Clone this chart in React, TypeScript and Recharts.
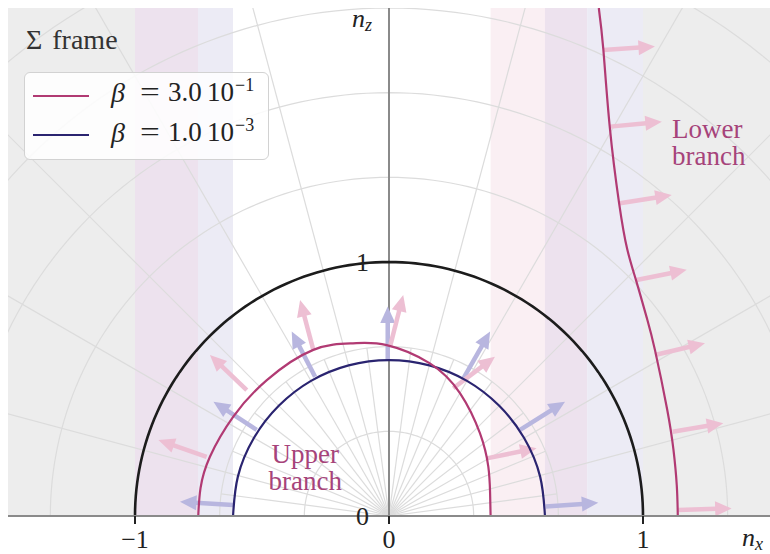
import React from "react";
import { ComposedChart, Line, XAxis, YAxis, ReferenceArea, ReferenceLine, ReferenceDot, Legend } from "recharts";

// refractive index surfaces (n_x, n_z)
const upperBranchHigh = [
  { x: 0.4, y: 0 }, { x: 0.398, y: 0.09 }, { x: 0.391, y: 0.194 }, { x: 0.358, y: 0.326 },
  { x: 0.28, y: 0.483 }, { x: 0.161, y: 0.601 }, { x: -0.009, y: 0.673 }, { x: -0.142, y: 0.68 },
  { x: -0.298, y: 0.654 }, { x: -0.481, y: 0.535 }, { x: -0.613, y: 0.391 }, { x: -0.705, y: 0.233 },
  { x: -0.742, y: 0.11 }, { x: -0.751, y: 0 },
];
const lowerBranchHigh = [
  { x: 0.826, y: 2.0 }, { x: 0.844, y: 1.835 }, { x: 0.869, y: 1.533 }, { x: 0.906, y: 1.231 },
  { x: 0.938, y: 1.05 }, { x: 0.975, y: 0.92 }, { x: 1.015, y: 0.78 }, { x: 1.047, y: 0.654 },
  { x: 1.095, y: 0.42 }, { x: 1.12, y: 0.26 }, { x: 1.133, y: 0.12 }, { x: 1.137, y: 0 },
];
const branchLow = [
  { x: 0.614, y: 0 }, { x: 0.595, y: 0.155 }, { x: 0.532, y: 0.307 }, { x: 0.434, y: 0.434 },
  { x: 0.307, y: 0.532 }, { x: 0.159, y: 0.593 }, { x: 0, y: 0.614 }, { x: -0.159, y: 0.593 },
  { x: -0.307, y: 0.532 }, { x: -0.434, y: 0.434 }, { x: -0.532, y: 0.307 }, { x: -0.595, y: 0.155 },
  { x: -0.614, y: 0 },
];

// group-velocity arrows: start point on the curve, tip
const arrowsLow = [
  { x1: -0.614, y1: 0.043, x2: -0.823, y2: 0.056 },
  { x1: -0.521, y1: 0.339, x2: -0.691, y2: 0.45 },
  { x1: -0.291, y1: 0.548, x2: -0.383, y2: 0.726 },
  { x1: -0.005, y1: 0.614, x2: -0.005, y2: 0.825 },
  { x1: 0.293, y1: 0.542, x2: 0.398, y2: 0.726 },
  { x1: 0.516, y1: 0.339, x2: 0.693, y2: 0.45 },
  { x1: 0.617, y1: 0.037, x2: 0.824, y2: 0.052 },
];
const arrowsHighUpper = [
  { x1: -0.718, y1: 0.233, x2: -0.908, y2: 0.299 },
  { x1: -0.56, y1: 0.496, x2: -0.705, y2: 0.634 },
  { x1: -0.298, y1: 0.654, x2: -0.35, y2: 0.85 },
  { x1: 0.004, y1: 0.667, x2: 0.056, y2: 0.87 },
  { x1: 0.253, y1: 0.503, x2: 0.417, y2: 0.627 },
  { x1: 0.385, y1: 0.227, x2: 0.581, y2: 0.267 },
];
const arrowsHighLower = [
  { x1: 0.844, y1: 1.835, x2: 1.047, y2: 1.848 },
  { x1: 0.87, y1: 1.533, x2: 1.074, y2: 1.552 },
  { x1: 0.909, y1: 1.231, x2: 1.113, y2: 1.264 },
  { x1: 0.975, y1: 0.929, x2: 1.172, y2: 0.969 },
  { x1: 1.047, y1: 0.634, x2: 1.244, y2: 0.68 },
  { x1: 1.117, y1: 0.332, x2: 1.316, y2: 0.365 },
  { x1: 1.139, y1: 0.024, x2: 1.349, y2: 0.03 },
];

// shaded n_x bands
const bands: [number, number][] = [
  [-1.5, -1], [-1, -0.752], [-0.752, -0.614], [0.4, 0.614], [0.614, 0.78], [0.78, 1], [1, 1.5],
];
const bandColors = ["#ededed", "#ede2ee", "#ecebf5", "#faeff3", "#ede2ee", "#ecebf5", "#ededed"];

const xTicks = [-1, 0, 1];
const gridRadii = [1 / 3, 2 / 3, 1, 4 / 3, 5 / 3, 2, 7 / 3];
const vacuumRadius = 1;

const legendRows = [
  { mantissa: "3.0", exponent: "−1" },
  { mantissa: "1.0", exponent: "−3" },
];

const arc = (r: number) =>
  Array.from({ length: 121 }, (_, i) => {
    const t = (Math.PI * i) / 120;
    return { x: r * Math.cos(t), y: r * Math.sin(t) };
  });

const radials = Array.from({ length: 23 }, (_, i) => (i + 1) * 7.5);

const FONT = "'Liberation Serif', 'DejaVu Serif', serif";
const RED = "#b13a73";
const BLUE = "#2a2470";
const PINK = "#edbfd3";
const LAV = "#b8b6df";
const LABEL = "#a6437a";

function Arrow(props: any) {
  const { x1, y1, x2, y2, color } = props;
  const dx = x2 - x1;
  const dy = y2 - y1;
  const len = Math.hypot(dx, dy) || 1;
  const ux = dx / len;
  const uy = dy / len;
  const head = 16.5;
  const half = 7.5;
  const bx = x2 - ux * head;
  const by = y2 - uy * head;
  return (
    <g>
      <line x1={x1} y1={y1} x2={bx + ux} y2={by + uy} stroke={color} strokeWidth={4.5} />
      <polygon
        points={`${x2},${y2} ${bx - uy * half},${by + ux * half} ${bx + uy * half},${by - ux * half}`}
        fill={color}
      />
    </g>
  );
}

function LegendBox() {
  const colors = [RED, BLUE];
  const piece = (left: number, top: number, size: number, content: React.ReactNode, extra: React.CSSProperties = {}) => (
    <span style={{ position: "absolute", left, top, fontSize: size, lineHeight: `${size}px`, whiteSpace: "nowrap", ...extra }}>
      {content}
    </span>
  );
  return (
    <div style={{ position: "relative", width: 300, height: 170, fontFamily: FONT, color: "#222" }}>
      <div style={{ position: "absolute", left: 26, top: 26, fontSize: 28, lineHeight: "28px", color: "#333", wordSpacing: 3 }}>
        Σ frame
      </div>
      <div
        style={{
          position: "absolute", left: 24, top: 72, width: 245, height: 88, boxSizing: "border-box",
          border: "1.5px solid #d2d2d2", borderRadius: 6, background: "rgba(255,255,255,0.85)",
        }}
      >
        {legendRows.map((r, i) => {
          const top = 6 + i * 40;
          return (
            <React.Fragment key={r.exponent}>
              <div style={{ position: "absolute", left: 7.5, top: 21.5 + i * 39, width: 56, height: 2.5, background: colors[i] }} />
              {piece(86, top, 28, "β", { fontStyle: "italic" })}
              {piece(115, top, 27, "=", { transform: "scaleX(1.3)", transformOrigin: "left center" })}
              {piece(143, top, 27, r.mantissa)}
              {piece(182, top, 27, "10")}
              {piece(210, top - 3, 18, r.exponent)}
            </React.Fragment>
          );
        })}
      </div>
    </div>
  );
}

const textAt = (render: (cx: number, cy: number) => React.ReactElement) => (p: any) => render(p.cx, p.cy);

export default function App() {
  return (
    <div style={{ position: "absolute", left: 0, top: 0, width: 770, height: 554 }}>
      <ComposedChart width={770} height={554} margin={{ top: 8, right: 0, bottom: 8, left: 8 }}>
        <XAxis
          type="number"
          dataKey="x"
          domain={[-1.5, 1.5]}
          allowDataOverflow
          ticks={xTicks}
          height={30}
          axisLine={{ stroke: "#8a8a8a", strokeWidth: 2 }}
          tickLine={{ stroke: "#222", strokeWidth: 2 }}
          tickSize={8}
          tickMargin={6}
          tickFormatter={(v: number) => (v < 0 ? `−${-v}` : `${v}`)}
          tick={{ fontSize: 26, fill: "#222", fontFamily: FONT }}
        />
        <YAxis type="number" dataKey="y" domain={[0, 2]} allowDataOverflow hide />

        {bands.map(([a, b], i) => (
          <ReferenceArea key={`band${i}`} x1={a} x2={b} y1={0} y2={2} fill={bandColors[i]} fillOpacity={1} stroke="none" ifOverflow="hidden" />
        ))}

        {radials.map((deg) => {
          const R = deg % 15 === 0 ? 3 : 2 / 3;
          const t = (deg * Math.PI) / 180;
          return (
            <ReferenceLine
              key={`rad${deg}`}
              segment={[{ x: 0, y: 0 }, { x: R * Math.cos(t), y: R * Math.sin(t) }]}
              stroke="#dcdcdc"
              strokeWidth={1.2}
              ifOverflow="hidden"
            />
          );
        })}
        {gridRadii.map((r) => (
          <Line key={`grid${r}`} data={arc(r)} dataKey="y" type="linear" stroke="#dcdcdc" strokeWidth={1.2} dot={false} activeDot={false} isAnimationActive={false} legendType="none" />
        ))}

        <ReferenceLine x={0} stroke="#8a8a8a" strokeWidth={2} />

        {arrowsLow.map((a, i) => (
          <ReferenceLine key={`al${i}`} segment={[{ x: a.x1, y: a.y1 }, { x: a.x2, y: a.y2 }]} ifOverflow="visible" shape={(p: any) => <Arrow {...p} color={LAV} />} />
        ))}
        {arrowsHighUpper.map((a, i) => (
          <ReferenceLine key={`ahu${i}`} segment={[{ x: a.x1, y: a.y1 }, { x: a.x2, y: a.y2 }]} ifOverflow="visible" shape={(p: any) => <Arrow {...p} color={PINK} />} />
        ))}
        {arrowsHighLower.map((a, i) => (
          <ReferenceLine key={`ahl${i}`} segment={[{ x: a.x1, y: a.y1 }, { x: a.x2, y: a.y2 }]} ifOverflow="visible" shape={(p: any) => <Arrow {...p} color={PINK} />} />
        ))}

        <Line data={arc(vacuumRadius)} dataKey="y" type="linear" stroke="#1c1c1c" strokeWidth={2.6} dot={false} activeDot={false} isAnimationActive={false} legendType="none" />
        <Line data={branchLow} dataKey="y" name="β = 1.0 10^-3" type="natural" stroke={BLUE} strokeWidth={2.2} dot={false} activeDot={false} isAnimationActive={false} />
        <Line data={upperBranchHigh} dataKey="y" name="β = 3.0 10^-1" type="natural" stroke={RED} strokeWidth={2.2} dot={false} activeDot={false} isAnimationActive={false} />
        <Line data={lowerBranchHigh} dataKey="y" name="β = 3.0 10^-1 lower" type="natural" stroke={RED} strokeWidth={2.2} dot={false} activeDot={false} isAnimationActive={false} legendType="none" />

        <ReferenceDot x={0} y={1} r={0} ifOverflow="visible" shape={textAt((cx, cy) => (
          <text x={cx - 20} y={cy + 9} textAnchor="end" fontSize={26} fontFamily={FONT} fill="#222">1</text>
        ))} />
        <ReferenceDot x={0} y={0} r={0} ifOverflow="visible" shape={textAt((cx, cy) => (
          <text x={cx - 20} y={cy + 9} textAnchor="end" fontSize={26} fontFamily={FONT} fill="#222">0</text>
        ))} />
        <ReferenceDot x={0} y={2} r={0} ifOverflow="visible" shape={textAt((cx, cy) => (
          <text x={cx - 37} y={cy + 19} fontSize={26} fontFamily={FONT} fontStyle="italic" fill="#222">
            n<tspan dy={4} fontSize={18}>z</tspan>
          </text>
        ))} />
        <ReferenceDot x={1.5} y={0} r={0} ifOverflow="visible" shape={textAt((cx, cy) => (
          <text x={cx - 28} y={cy + 30} fontSize={26} fontFamily={FONT} fontStyle="italic" fill="#222">
            n<tspan dy={4} fontSize={18}>x</tspan>
          </text>
        ))} />
        <ReferenceDot x={-0.33} y={0.2} r={0} ifOverflow="visible" shape={textAt((cx, cy) => (
          <text x={cx} y={cy} textAnchor="middle" fontSize={27} fontFamily={FONT} fill={LABEL}>
            <tspan x={cx} dy={-2}>Upper</tspan>
            <tspan x={cx} dy={27}>branch</tspan>
          </text>
        ))} />
        <ReferenceDot x={1.114} y={1.5} r={0} ifOverflow="visible" shape={textAt((cx, cy) => (
          <text x={cx} y={cy} fontSize={27} fontFamily={FONT} fill={LABEL}>
            <tspan x={cx} dy={3}>Lower</tspan>
            <tspan x={cx} dy={27}>branch</tspan>
          </text>
        ))} />

        <Legend verticalAlign="middle" align="center" layout="horizontal" wrapperStyle={{ left: 0, top: 0, width: 300, height: 170 }} content={() => <LegendBox />} />
      </ComposedChart>
    </div>
  );
}
